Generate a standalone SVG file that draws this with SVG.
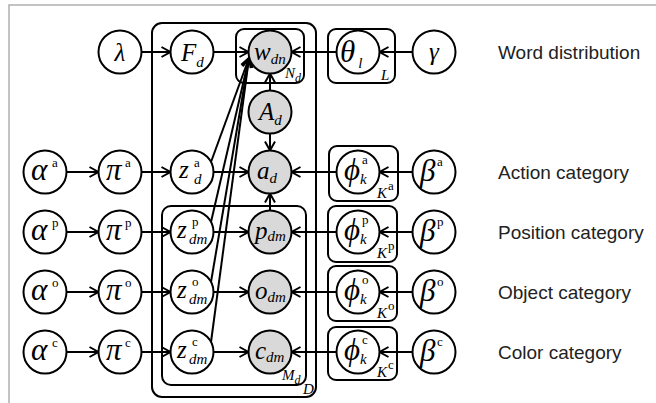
<svg xmlns="http://www.w3.org/2000/svg" width="656" height="403" viewBox="0 0 656 403">
<defs>
<marker id="arr" markerUnits="userSpaceOnUse" markerWidth="14" markerHeight="14" viewBox="-11 -7 14 14" refX="0" refY="0" orient="auto">
<path d="M-9,-5 L0,0 L-9,5" fill="none" stroke="#000" stroke-width="2"/>
</marker>
<style>
.n{fill:#fff;stroke:#000;stroke-width:2}
.o{fill:#d9d9d9;stroke:#000;stroke-width:2}
.pl{fill:none;stroke:#000;stroke-width:2}
.e{stroke:#000;stroke-width:2;fill:none;marker-end:url(#arr)}
.m{font-family:"Liberation Serif",serif;font-style:italic;font-size:25px;fill:#000}
.g{font-family:"Liberation Serif",serif;font-style:italic;font-size:31px;fill:#000}
.s{font-family:"Liberation Serif",serif;font-style:italic;font-size:15px;fill:#000}
.u{font-family:"Liberation Serif",serif;font-style:normal;font-size:13px;fill:#000}
.pt{font-family:"Liberation Serif",serif;font-style:italic;font-size:15px;fill:#000}
.lb{font-family:"Liberation Sans",Arial,sans-serif;font-size:19px;fill:#222}
</style>
</defs>
<rect width="656" height="403" fill="#fff"/>
<path d="M9,403 L9,5 L656,5" fill="none" stroke="#b0b0b0" stroke-width="1.5"/>

<g id="plates">
<rect id="plate-D" class="pl" x="152" y="23" width="164" height="374" rx="10"/>
<text class="pt" x="303" y="394">D</text>
<rect id="plate-Nd" class="pl" x="236" y="29" width="68" height="54" rx="8"/>
<text class="pt" x="285" y="78">N<tspan font-size="12" dy="4">d</tspan></text>
<rect id="plate-Md" class="pl" x="162" y="206" width="144" height="179" rx="9"/>
<text class="pt" x="282" y="380">M<tspan font-size="12" dy="4">d</tspan></text>
<rect id="plate-L" class="pl" x="328" y="29" width="67" height="54" rx="8"/>
<text class="pt" x="381" y="80">L</text>
<rect id="plate-Ka" class="pl" x="329" y="146" width="69" height="55" rx="8"/>
<text class="pt" x="377" y="198">K</text><text class="u" font-size="12" x="388" y="190">a</text>
<rect id="plate-Kp" class="pl" x="328" y="206" width="69" height="56" rx="8"/>
<text class="pt" x="377" y="258">K</text><text class="u" font-size="12" x="388" y="250">p</text>
<rect id="plate-Ko" class="pl" x="328" y="266" width="69" height="55" rx="8"/>
<text class="pt" x="377" y="318">K</text><text class="u" font-size="12" x="388" y="310">o</text>
<rect id="plate-Kc" class="pl" x="328" y="327" width="69" height="53" rx="8"/>
<text class="pt" x="377" y="377">K</text><text class="u" font-size="12" x="388" y="369">c</text>
</g>

<g id="connectors">
<line class="e" x1="141.5" y1="52" x2="170.5" y2="52"/>
<line class="e" x1="213.5" y1="52" x2="248.5" y2="52"/>
<line class="e" x1="336.5" y1="52" x2="291.5" y2="52"/>
<line class="e" x1="412.5" y1="52" x2="379.5" y2="52"/>
<line class="e" x1="270" y1="90.5" x2="270" y2="73.5"/>
<line class="e" x1="270" y1="133.5" x2="270" y2="150.5"/>
<line class="e" x1="270" y1="210.5" x2="270" y2="193.5"/>
<line class="e" x1="66.5" y1="172" x2="98.5" y2="172"/>
<line class="e" x1="141.5" y1="172" x2="170.5" y2="172"/>
<line class="e" x1="213.5" y1="172" x2="248.5" y2="172"/>
<line class="e" x1="336.5" y1="172" x2="291.5" y2="172"/>
<line class="e" x1="412.5" y1="172" x2="379.5" y2="172"/>
<line class="e" x1="66.5" y1="232" x2="98.5" y2="232"/>
<line class="e" x1="141.5" y1="232" x2="170.5" y2="232"/>
<line class="e" x1="213.5" y1="232" x2="248.5" y2="232"/>
<line class="e" x1="336.5" y1="232" x2="291.5" y2="232"/>
<line class="e" x1="412.5" y1="232" x2="379.5" y2="232"/>
<line class="e" x1="66.5" y1="292" x2="98.5" y2="292"/>
<line class="e" x1="141.5" y1="292" x2="170.5" y2="292"/>
<line class="e" x1="213.5" y1="292" x2="248.5" y2="292"/>
<line class="e" x1="336.5" y1="292" x2="291.5" y2="292"/>
<line class="e" x1="412.5" y1="292" x2="379.5" y2="292"/>
<line class="e" x1="66.5" y1="352" x2="98.5" y2="352"/>
<line class="e" x1="141.5" y1="352" x2="170.5" y2="352"/>
<line class="e" x1="213.5" y1="352" x2="248.5" y2="352"/>
<line class="e" x1="336.5" y1="352" x2="291.5" y2="352"/>
<line class="e" x1="412.5" y1="352" x2="379.5" y2="352"/>
<line class="e" x1="211" y1="162" x2="249" y2="58"/>
<line class="e" x1="211" y1="222" x2="249" y2="58"/>
<line class="e" x1="211" y1="282" x2="249" y2="58"/>
<line class="e" x1="211" y1="342" x2="249" y2="58"/>
</g>

<g id="lambda"><circle class="n" cx="120" cy="52" r="21.5"/><text class="m" font-size="27" x="120" y="61" text-anchor="middle">λ</text></g>
<g id="F_d"><circle class="n" cx="192" cy="52" r="21.5"/><text class="m" x="181" y="61">F<tspan class="s" dy="6">d</tspan></text></g>
<g id="w_dn"><circle class="o" cx="270" cy="52" r="21.5"/><text class="m" x="254" y="60">w<tspan class="s" dy="4">dn</tspan></text></g>
<g id="theta_l"><circle class="n" cx="358" cy="52" r="21.5"/><text class="g" font-size="27" x="340" y="62">θ<tspan class="s" dx="3" dy="6">l</tspan></text></g>
<g id="gamma"><circle class="n" cx="434" cy="52" r="21.5"/><text class="m" x="434" y="60" text-anchor="middle">γ</text></g>
<g id="A_d"><circle class="o" cx="270" cy="112" r="21.5"/><text class="m" x="259" y="120">A<tspan class="s" dy="5">d</tspan></text></g>

<g id="alpha_a"><circle class="n" cx="45" cy="172" r="21.5"/><text class="g" x="31" y="180">α</text><text class="u" x="52" y="167">a</text></g>
<g id="pi_a"><circle class="n" cx="120" cy="172" r="21.5"/><text class="g" font-size="29" x="106" y="180">π</text><text class="u" x="125" y="167">a</text></g>
<g id="z_a"><circle class="n" cx="192" cy="172" r="21.5"/><text class="m" font-size="22" x="179" y="178">z</text><text class="u" x="194" y="167">a</text><text class="s" x="194" y="184">d</text></g>
<g id="a_d"><circle class="o" cx="270" cy="172" r="21.5"/><text class="m" x="257" y="179">a<tspan class="s" dy="4">d</tspan></text></g>
<g id="phi_a"><circle class="n" cx="358" cy="172" r="21.5"/><text class="g" font-size="27" x="344" y="180">ϕ</text><text class="u" x="362" y="164">a</text><text class="s" x="360" y="184">k</text></g>
<g id="beta_a"><circle class="n" cx="434" cy="172" r="21.5"/><text class="g" font-size="29" x="420" y="181">β</text><text class="u" x="437" y="166">a</text></g>

<g id="alpha_p"><circle class="n" cx="45" cy="232" r="21.5"/><text class="g" x="31" y="240">α</text><text class="u" x="52" y="227">p</text></g>
<g id="pi_p"><circle class="n" cx="120" cy="232" r="21.5"/><text class="g" font-size="29" x="106" y="240">π</text><text class="u" x="125" y="227">p</text></g>
<g id="z_p"><circle class="n" cx="192" cy="232" r="21.5"/><text class="m" font-size="22" x="177" y="238">z</text><text class="u" x="192" y="226">p</text><text class="s" x="189" y="244">dm</text></g>
<g id="p_dm"><circle class="o" cx="270" cy="232" r="21.5"/><text class="m" x="255" y="239">p<tspan class="s" dy="2">dm</tspan></text></g>
<g id="phi_p"><circle class="n" cx="358" cy="232" r="21.5"/><text class="g" font-size="27" x="344" y="240">ϕ</text><text class="u" x="362" y="224">p</text><text class="s" x="360" y="244">k</text></g>
<g id="beta_p"><circle class="n" cx="434" cy="232" r="21.5"/><text class="g" font-size="29" x="420" y="241">β</text><text class="u" x="437" y="226">p</text></g>

<g id="alpha_o"><circle class="n" cx="45" cy="292" r="21.5"/><text class="g" x="31" y="300">α</text><text class="u" x="52" y="287">o</text></g>
<g id="pi_o"><circle class="n" cx="120" cy="292" r="21.5"/><text class="g" font-size="29" x="106" y="300">π</text><text class="u" x="125" y="287">o</text></g>
<g id="z_o"><circle class="n" cx="192" cy="292" r="21.5"/><text class="m" font-size="22" x="177" y="298">z</text><text class="u" x="192" y="286">o</text><text class="s" x="189" y="304">dm</text></g>
<g id="o_dm"><circle class="o" cx="270" cy="292" r="21.5"/><text class="m" x="255" y="299">o<tspan class="s" dy="3">dm</tspan></text></g>
<g id="phi_o"><circle class="n" cx="358" cy="292" r="21.5"/><text class="g" font-size="27" x="344" y="300">ϕ</text><text class="u" x="362" y="284">o</text><text class="s" x="360" y="304">k</text></g>
<g id="beta_o"><circle class="n" cx="434" cy="292" r="21.5"/><text class="g" font-size="29" x="420" y="301">β</text><text class="u" x="437" y="286">o</text></g>

<g id="alpha_c"><circle class="n" cx="45" cy="352" r="21.5"/><text class="g" x="31" y="360">α</text><text class="u" x="52" y="347">c</text></g>
<g id="pi_c"><circle class="n" cx="120" cy="352" r="21.5"/><text class="g" font-size="29" x="106" y="360">π</text><text class="u" x="125" y="347">c</text></g>
<g id="z_c"><circle class="n" cx="192" cy="352" r="21.5"/><text class="m" font-size="22" x="177" y="358">z</text><text class="u" x="192" y="346">c</text><text class="s" x="189" y="364">dm</text></g>
<g id="c_dm"><circle class="o" cx="270" cy="352" r="21.5"/><text class="m" x="255" y="359">c<tspan class="s" dy="3">dm</tspan></text></g>
<g id="phi_c"><circle class="n" cx="358" cy="352" r="21.5"/><text class="g" font-size="27" x="344" y="360">ϕ</text><text class="u" x="362" y="344">c</text><text class="s" x="360" y="364">k</text></g>
<g id="beta_c"><circle class="n" cx="434" cy="352" r="21.5"/><text class="g" font-size="29" x="420" y="361">β</text><text class="u" x="437" y="346">c</text></g>

<g id="labels">
<text class="lb" x="498" y="59">Word distribution</text>
<text class="lb" x="498" y="179">Action category</text>
<text class="lb" x="498" y="239">Position category</text>
<text class="lb" x="498" y="299">Object category</text>
<text class="lb" x="498" y="359">Color category</text>
</g>
</svg>
